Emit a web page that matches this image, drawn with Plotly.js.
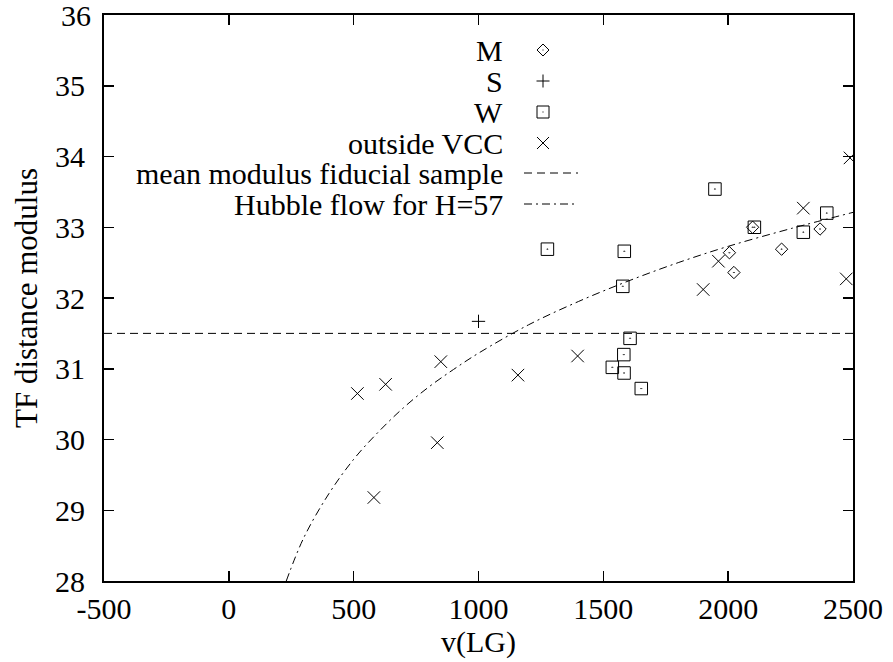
<!DOCTYPE html>
<html>
<head>
<meta charset="utf-8">
<script src="https://cdn.plot.ly/plotly-3.0.1.min.js"></script>
<style>html,body{margin:0;padding:0;background:#fff;}#chart{width:893px;height:662px;}</style>
</head>
<body>
<div id="chart"></div>
<script>
// ---- data ----
const mV = [2098, 2368, 2214, 2005, 2023];
const mMod = [33.00, 32.975, 32.69, 32.64, 32.36];

const sV = [1000];
const sMod = [31.67];

const wV = [1947, 2395, 2105, 2301, 1276, 1584, 1578, 1607, 1582, 1536, 1583, 1652];
const wMod = [33.54, 33.20, 33.00, 32.93, 32.69, 32.66, 32.165, 31.43, 31.20, 31.02, 30.94, 30.72];

const outV = [2301, 1961, 2473, 1900, 1397, 1158, 849, 628, 515, 835, 581, 2488];
const outMod = [33.27, 32.52, 32.27, 32.12, 31.18, 30.91, 31.10, 30.78, 30.65, 29.955, 29.18, 33.98];

const meanV = [-500, 2500];
const meanMod = [31.5, 31.5];

const hubbleV = [230, 300, 400, 500, 600, 700, 800, 900, 1000, 1200, 1400, 1600, 1800, 2000, 2250, 2500];
const hubbleMod = [28.0, 28.61, 29.23, 29.72, 30.11, 30.45, 30.74, 30.99, 31.22, 31.62, 31.95, 32.24, 32.50, 32.73, 32.98, 33.21];

const xTickVals = [-500, 0, 500, 1000, 1500, 2000, 2500];
const xTickText = ["-500", "0", "500", "1000", "1500", "2000", "2500"];
const yTickVals = [28, 29, 30, 31, 32, 33, 34, 35, 36];
const yTickText = ["28", "29", "30", "31", "32", "33", "34", "35", "36"];

const legendLabels = ["M", "S", "W", "outside VCC", "mean modulus fiducial sample", "Hubble flow for H=57"];

// ---- layout helpers ----
const FONT = "Liberation Serif";
const FS = 30;
const L = 104, R = 853, T = 15, B = 581, W = 893, H = 662;
const px2x = p => (p - L) / (R - L);
const px2y = p => (B - p) / (B - T);

const traces = [
  {x: meanV, y: meanMod, mode: "lines", line: {color: "#000", width: 1, dash: "8px,5px"}, hoverinfo: "skip"},
  {x: hubbleV, y: hubbleMod, mode: "lines", line: {color: "#000", width: 1, dash: "8px,4px,2px,4px", shape: "spline"}, hoverinfo: "skip"},
  {x: mV, y: mMod, mode: "markers", marker: {symbol: "diamond-open-dot", size: 9.5, color: "#000", line: {color: "#000", width: 1}}},
  {x: sV, y: sMod, mode: "markers", marker: {symbol: "cross-thin-open", size: 9.5, color: "#000", line: {color: "#000", width: 1}}},
  {x: wV, y: wMod, mode: "markers", marker: {symbol: "square-open-dot", size: 12.5, color: "#000", line: {color: "#000", width: 1}}},
  {x: outV, y: outMod, mode: "markers", marker: {symbol: "x-thin-open", size: 12.5, color: "#000", line: {color: "#000", width: 1}}}
];

const rowY = [50, 81, 112, 143, 173, 204];
const textRight = 505;
const symX = px2x(543);

const annotations = legendLabels.map((t, i) => ({
  text: t, xref: "paper", yref: "paper", x: px2x(textRight), y: px2y(rowY[i]),
  xanchor: "right", yanchor: "middle", showarrow: false,
  font: {family: FONT, size: FS, color: "#000"}
}));
// top y tick label (Plotly drops the label that sits on the top edge)
annotations.push({
  text: yTickText[yTickText.length - 1], xref: "paper", yref: "y",
  x: px2x(L - 11), y: yTickVals[yTickVals.length - 1],
  xanchor: "right", yanchor: "middle", showarrow: false,
  font: {family: FONT, size: FS, color: "#000"}
});

const shp = (type, cy, extra) => Object.assign({
  type: type, xref: "paper", yref: "paper", xsizemode: "pixel", ysizemode: "pixel",
  xanchor: symX, yanchor: px2y(cy), line: {color: "#000", width: 1}
}, extra);

const shapes = [
  shp("path", rowY[0], {path: "M -6 0 L 0 6 L 6 0 L 0 -6 Z"}),
  shp("rect", rowY[0], {x0: -0.5, x1: 0.5, y0: -0.5, y1: 0.5, fillcolor: "#000", line: {width: 0}}),
  shp("path", rowY[1], {path: "M -6.5 0 L 6.5 0 M 0 -6.5 L 0 6.5"}),
  shp("rect", rowY[2], {x0: -6, x1: 6, y0: -6, y1: 6}),
  shp("rect", rowY[2], {x0: -0.5, x1: 0.5, y0: -0.5, y1: 0.5, fillcolor: "#000", line: {width: 0}}),
  shp("path", rowY[3], {path: "M -6 -6 L 6 6 M -6 6 L 6 -6"}),
  {type: "line", xref: "paper", yref: "paper", x0: px2x(524), x1: px2x(578), y0: px2y(rowY[4]), y1: px2y(rowY[4]), line: {color: "#000", width: 1, dash: "8px,5px"}},
  {type: "line", xref: "paper", yref: "paper", x0: px2x(524), x1: px2x(578), y0: px2y(rowY[5]), y1: px2y(rowY[5]), line: {color: "#000", width: 1, dash: "8px,4px,2px,4px"}}
];

const axisCommon = {
  showline: true, linecolor: "#000", linewidth: 2, mirror: "ticks",
  ticks: "inside", ticklen: 10, tickwidth: 1.5, tickcolor: "#000",
  showgrid: false, zeroline: false, tickmode: "array",
  tickfont: {family: FONT, size: FS, color: "#000"}
};

const layout = {
  width: W, height: H,
  margin: {l: L, r: W - R, t: T, b: H - B, pad: 0},
  paper_bgcolor: "#fff", plot_bgcolor: "#fff",
  showlegend: false,
  font: {family: FONT, size: FS, color: "#000"},
  xaxis: Object.assign({}, axisCommon, {
    range: [-500, 2500], tickvals: xTickVals, ticktext: xTickText, ticklabelstandoff: 0,
    title: {text: "v(LG)", font: {family: FONT, size: FS, color: "#000"}, standoff: 0}
  }),
  yaxis: Object.assign({}, axisCommon, {
    range: [28, 36], tickvals: yTickVals, ticktext: yTickText.map((t, i) => i === yTickText.length - 1 ? "" : t), ticklabelstandoff: 11,
    title: {text: "TF distance modulus", font: {family: FONT, size: 31, color: "#000"}, standoff: 8}
  }),
  annotations: annotations,
  shapes: shapes
};

Plotly.newPlot("chart", traces, layout, {displayModeBar: false, staticPlot: true});
</script>
</body>
</html>
